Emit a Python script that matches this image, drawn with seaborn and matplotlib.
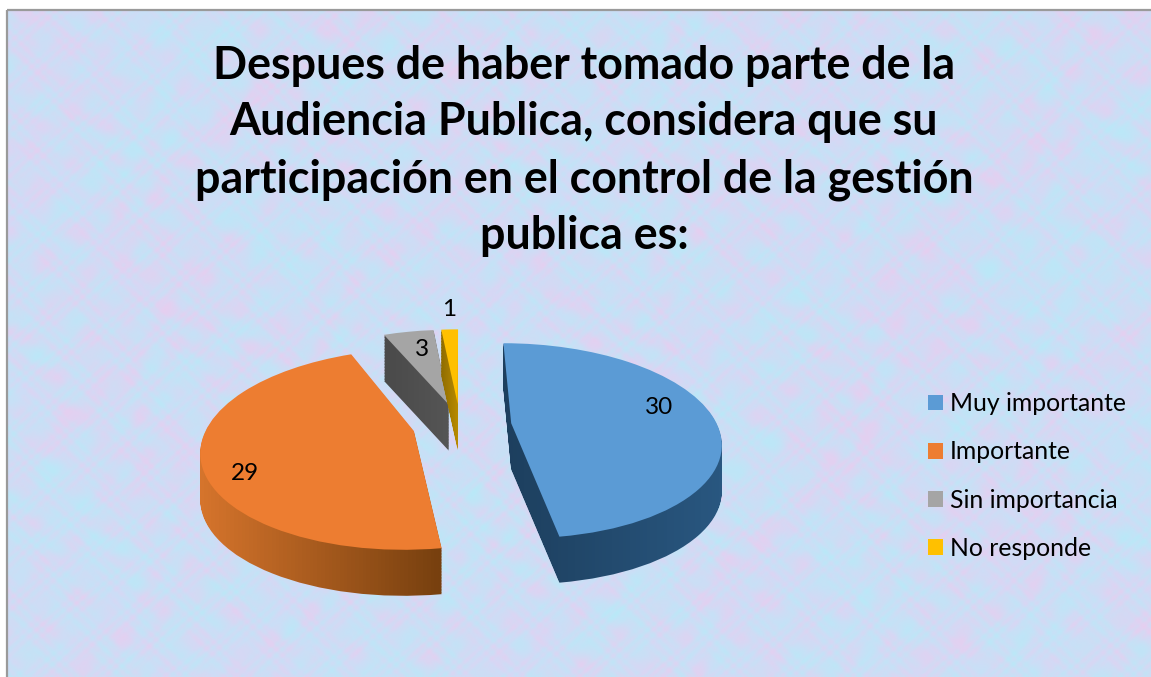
import numpy as np
import matplotlib
matplotlib.use("Agg")
import matplotlib.pyplot as plt
import seaborn as sns
from matplotlib.colors import LinearSegmentedColormap, to_rgb
from matplotlib.patches import Patch, PathPatch, Rectangle
from matplotlib.path import Path
from matplotlib.transforms import Transform

TITLE = ("Despues de haber tomado parte de la\n"
         "Audiencia Publica, considera que su\n"
         "participación en el control de la gestión\n"
         "publica es:")
categories = ["Muy importante", "Importante", "Sin importancia", "No responde"]
values = [30, 29, 3, 1]
top_colors = ["#5B9BD5", "#ED7D31", "#A5A5A5", "#FFC000"]
wall_left = ["#1D3F5E", "#D5742C", "#4A4A4A", "#8F6C00"]
wall_right = ["#295780", "#77400F", "#555555", "#B88B00"]
label_xy = [(659, 407), (245, 473), (422, 350), (449, 310)]

W, H = 1151, 677
CX, CY, RX, RY, K = 460, 425, 206, 95, 0.18
DEPTH = 46

sns.set_theme(style="white")
plt.rcParams["font.family"] = ["Lato", "DejaVu Sans"]


class Tilt(Transform):
    """Projects the unit pie disc on to a receding plane, in pixel units."""
    input_dims = output_dims = 2

    def __init__(self, drop=0):
        super().__init__()
        self.drop = drop

    def transform_non_affine(self, values):
        u, v = np.asarray(values).T
        f = 1 / (1 + K * v)
        return np.column_stack([CX + RX * u * f, CY - RY * v * f + self.drop])


fig = plt.figure(figsize=(W / 100, H / 100), dpi=100, facecolor="white")
ax = fig.add_axes([0, 0, 1, 1])

wedges, _ = ax.pie(values, explode=[0.25, 0.23, 0.23, 0.23], startangle=90, counterclock=False,
                   colors=sns.color_palette(top_colors), radius=1.0)
ax.set_aspect("auto")
ax.set_xlim(0, W)
ax.set_ylim(H, 0)
ax.axis("off")

# mottled paper background
yy, xx = np.mgrid[0:H:1.0, 0:W:1.0]
def field(a, b, c, d, e):
    return (0.8 * np.sin(xx / a + yy / b + 1.3 * np.sin(yy / 37 + xx / 71) + e)
            + 0.8 * np.sin(xx / c - yy / d + 1.1 * np.sin(xx / 23 - yy / 53) + 2 * e)
            + 0.8 * np.sin(xx / 7 + yy / 10 + 2.5 * np.sin(xx / 29 + e))
            + 0.8 * np.sin(xx / 11 - yy / 6 + 2.5 * np.sin(yy / 31 - e))
            + 0.9 * np.sin(xx / 2.9 + yy / 3.7 + 3 * np.sin(xx / 11 + yy / 7 + e))
            + 0.9 * np.sin(xx / 4.3 - yy / 3.1 + 3 * np.sin(yy / 13 - xx / 9 + e)))
pink = np.clip(0.30 + 0.11 * field(41, 63, 29, 47, 0.4), 0, 1)[..., None]
aqua = np.clip(0.36 + 0.13 * field(33, 52, 57, 31, 2.1), 0, 1)[..., None]
base = np.array(to_rgb("#D2DAF6"))
tex = base + pink * (np.array(to_rgb("#F2C8EC")) - base) * 0.75
tex = tex + aqua * (np.array(to_rgb("#B4ECF8")) - tex) * 0.85
ax.imshow(tex, extent=(7, W, H, 10), aspect="auto", zorder=0, interpolation="bilinear")
ax.add_patch(Rectangle((7, 10), W, H, fill=False, ec="#9A9A9A", lw=1.6, zorder=1))
ax.set_xlim(0, W)
ax.set_ylim(H, 0)

draw_order = [2, 3, 1, 0]
for z, i in enumerate(draw_order):
    w = wedges[i]
    base_path = w.get_path()
    walls = [Tilt(d).transform_path(base_path) for d in np.arange(1, DEPTH + 1, 1.5)]
    compound = Path.make_compound_path(*walls)
    clip = PathPatch(compound, transform=ax.transData, fc="none", ec="none", zorder=2 + z)
    ax.add_patch(clip)
    ext = compound.get_extents()
    cmap = LinearSegmentedColormap.from_list("w", [wall_left[i], wall_right[i]])
    im = ax.imshow(np.linspace(0, 1, 64)[None, :], cmap=cmap, aspect="auto",
                   extent=(ext.x0, ext.x1, ext.y1, ext.y0), zorder=2 + z + 0.1)
    im.set_clip_path(clip)
    w.set_transform(Tilt(0) + ax.transData)
    w.set_zorder(2 + z + 0.2)
    w.set_edgecolor("none")
ax.set_xlim(0, W)
ax.set_ylim(H, 0)

ax.text(584, 151, TITLE, ha="center", va="center", fontsize=32.2, fontweight="bold",
        color="black", linespacing=1.43, zorder=10)

for v, (x, y) in zip(values, label_xy):
    ax.text(x, y, str(v), ha="center", va="center", fontsize=17.5, color="black", zorder=10)

handles = [Patch(facecolor=c, edgecolor="none") for c in top_colors]
ax.legend(handles, categories, loc="center left", bbox_to_anchor=(928 / W, 1 - 476 / H),
          bbox_transform=fig.transFigure, frameon=False, fontsize=17.8, labelspacing=1.02,
          handlelength=0.6, handleheight=0.6, handletextpad=0.3, borderpad=0, borderaxespad=0,
          labelcolor="black")

fig.savefig("out.png", dpi=100, facecolor="white")
